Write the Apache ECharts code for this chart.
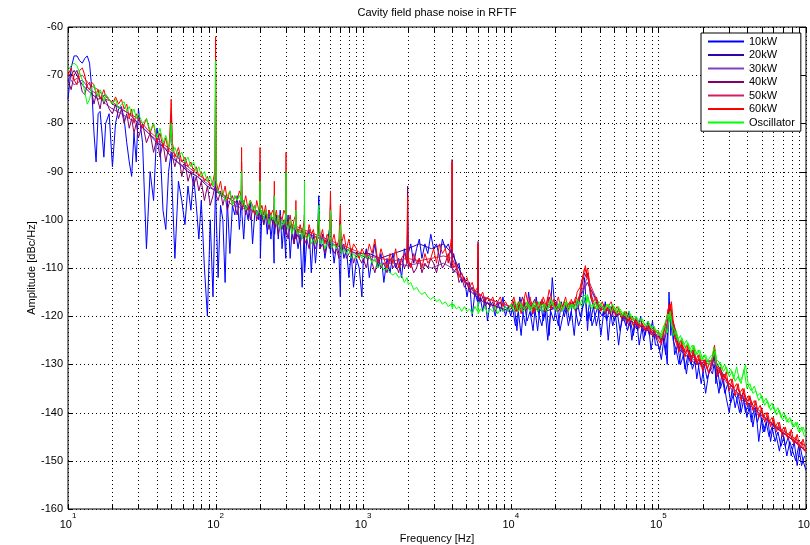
<!DOCTYPE html>
<html>
<head>
<meta charset="utf-8">
<script src="https://cdn.jsdelivr.net/npm/echarts@6/dist/echarts.min.js"></script>
<style>html,body{margin:0;padding:0;background:#fff}#c{width:810px;height:545px}</style>
</head>
<body>
<div id="c"></div>
<script>
// ---------------- DATA ----------------
const seriesNames = ['10kW','20kW','30kW','40kW','50kW','60kW','Oscillator'];
const xGridVals = [10,20,30,40,50,60,70,80,90,100,200,300,400,500,600,700,800,900,1000,2000,3000,4000,5000,6000,7000,8000,9000,1e4,2e4,3e4,4e4,5e4,6e4,7e4,8e4,9e4,1e5,2e5,3e5,4e5,5e5,6e5,7e5,8e5,9e5,1e6];
const yTickVals = [-160,-150,-140,-130,-120,-110,-100,-90,-80,-70,-60];

// fine frequency grid, per decade [Hz]
const F1 = [10,10.5,11,11.5,12,12.5,13,13.5,14,14.5,
 15,15.5,16,16.5,17,17.5,18,19,20,21,
 22,23,24,25,26,27,28,29,30,32,
 34,36,38,40,42,44,46,48,49,50,
 51,53,56,59,62,65,68,71,74,77,
 80,84,88,92,96,99,100,101];
const F2 = [104,108,112,116,120,125,130,135,140,145,
 149,150,151,155,160,166,172,178,184,190,
 196,199,200,201,206,212,218,224,230,237,
 244,249,250,251,258,266,274,282,290,299,
 300,301,310,320,330,340,349,350,351,362,
 374,386,399,400,401,415,430,445,460,475,
 490,500,510,530,550,570,590,600,610,635,
 660,685,700,710,740,770,800,830,860,900,
 940,980];
const F3 = [1000,1050,1100,1150,1200,1260,1320,1380,1450,1520,
 1590,1660,1740,1820,1900,1980,2000,2020,2100,2200,
 2300,2400,2500,2620,2740,2870,3000,3140,3290,3440,
 3600,3770,3950,3990,4000,4010,4100,4280,4460,4650,
 4850,5050,5260,5480,5710,5950,5990,6000,6010,6200,
 6450,6700,6950,7250,7550,7850,8150,8500,8850,9200,
 9600];
const F4 = [10000,10500,11000,11500,12000,12600,13200,13800,14500,15200,
 15900,16600,17400,18200,19100,20000,21000,22000,23000,24000,
 25100,26300,27500,28800,30200,31600,32500,33100,33800,34700,
 36300,38000,39800,41700,43700,45700,47900,50100,52500,55000,
 57500,60300,63100,66100,69200,72400,75900,79400,83200,87100,
 91200,95500];
const F5 = [100000,104700,109600,114800,118000,120200,122500,125900,131800,138000,
 144500,151400,158500,166000,173800,182000,190500,199500,208900,218800,
 229100,236000,240000,245000,251200,263000,275400,288400,302000,316200,
 331100,346700,363100,380200,398100,416900,436500,457100,478600,501200,
 524800,549500,575400,602600,631000,660700,691800,724400,758600,794300,
 831800,871000,912000,955000,1000000];
// interleaved extra samples for the dense high-frequency band
const FX4 = [10250,10750,11250,11750,12300,12900,13500,14150,14850,15550,
 16250,17000,17800,18650,19550,20500,21500,22500,23500,24550,
 25700,26900,28150,29500,30900,32000,32800,33450,34250,35500,
 37150,38900,40750,42700,44700,46800,49000,51300,53750,56250,
 58900,61700,64600,67650,70800,74150,77650,81300,85150,89150,
 93350,97750];
const FX5 = [102300,107100,112200,116400,119100,121300,124200,128800,134900,141200,
 147900,154900,162200,169900,177900,186200,195000,204200,213800,223900,
 232500,238000,242500,248100,257100,269200,281900,295200,309100,323600,
 338900,354900,371600,389100,407500,426700,446800,467800,489900,512900,
 537100,562400,589000,616800,645800,676200,708100,741500,776400,813000,
 851400,891500,933500,977500];

// 10kW [dBc/Hz]
const P10_1 = [-75,-68.5,-66,-66,-67,-67.5,-66.5,-66,-67.5,-73,
 -82,-88,-78,-77.5,-82,-87,-80,-78,-89,-80,
 -77,-76.5,-79,-84,-88,-91,-82,-88,-77,-84,
 -106,-90,-96,-81,-84,-98,-102,-90,-88,-86,
 -95,-108,-92,-96,-101,-93,-98,-91,-97,-104,
 -96,-110,-120,-100,-116,-98,-92,-99];
const P10_2 = [-112,-97,-100,-113,-96,-107,-97,-99,-95,-102,
 -96,-93,-99,-104,-97,-100,-96,-105,-99,-98,
 -100,-97,-95,-108,-98,-101,-99,-103,-98,-104,
 -100,-109,-97,-103,-99,-104,-98,-106,-101,-108,
 -100,-103,-99,-108,-102,-105,-100,-104,-103,-106,
 -103,-114,-101,-99,-111,-104,-102,-111,-103,-109,
 -104,-95,-106,-103,-108,-105,-102,-107,-104,-109,
 -105,-107,-116,-104,-108,-106,-112,-107,-114,-108,
 -110,-116];
const P10_3 = [-109,-106,-112,-108,-105,-110,-107,-113,-108,-111,
 -107,-110,-108,-112,-106,-109,-100,-107,-105,-109,
 -106,-104,-108,-105,-107,-103,-106,-105,-108,-104,
 -106,-105,-107,-106,-96,-108,-107,-110,-109,-113,
 -112,-116,-113,-120,-115,-117,-116,-108,-118,-116,
 -119,-116,-121,-117,-118,-120,-117,-119,-116,-120,
 -118];
const P10_4 = [-120,-117,-123,-116,-119,-122,-115,-120,-118,-123,
 -117,-121,-118,-124,-112,-119,-122,-117,-120,-118,
 -121,-117,-119,-122,-120,-112,-118,-123,-119,-121,
 -118,-122,-119,-120,-117,-125,-118,-121,-119,-123,
 -120,-122,-119,-125,-121,-123,-120,-125,-122,-124,
 -121,-126];
const P10_5 = [-126,-129,-124,-130,-115,-121,-120,-125,-127,-130,
 -126,-131,-128,-130,-127,-133,-129,-131,-136,-132,
 -130,-129,-128,-134,-131,-135,-133,-137,-140,-135,
 -139,-136,-140,-137,-141,-138,-143,-139,-146,-141,
 -144,-141,-146,-142,-145,-148,-144,-147,-145,-149,
 -146,-151,-147,-150,-152];
const P10_X4 = [-118,-122,-119,-124,-117,-121,-119,-123,-116,-120,
 -122,-118,-125,-119,-121,-117,-123,-120,-118,-122,
 -119,-124,-117,-120,-118,-116,-121,-119,-117,-122,
 -120,-118,-124,-119,-121,-118,-122,-120,-126,-121,
 -119,-123,-121,-124,-120,-126,-122,-124,-121,-127,
 -123,-125];
const P10_X5 = [-127,-124,-128,-122,-117,-124,-121,-128,-126,-130,
 -128,-132,-127,-131,-129,-130,-134,-130,-133,-131,
 -132,-130,-131,-133,-136,-132,-136,-134,-138,-136,
 -137,-140,-136,-140,-138,-142,-139,-142,-140,-144,
 -142,-145,-143,-146,-144,-147,-145,-149,-146,-148,
 -150,-147,-151,-149];

// 40kW
const P40_1 = [-71,-73,-70,-69,-71,-73.5,-74,-72,-71.5,-73.5,
 -76,-74,-75.5,-77,-74.5,-76,-75,-77,-78,-76,
 -79,-77,-80,-78,-81,-79,-82,-80,-83,-80,
 -84,-82,-86,-83,-87,-84,-88,-85,-84,-78,
 -87,-89,-86,-91,-88,-92,-90,-93,-91,-94,
 -92,-96,-93,-97,-95,-93,-70,-95];
const P40_2 = [-96,-94,-97,-95,-98,-96,-95,-97,-99,-96,
 -97,-88,-98,-96,-99,-97,-100,-98,-97,-100,
 -99,-98,-88,-100,-99,-101,-98,-100,-102,-99,
 -101,-100,-95,-102,-100,-103,-101,-102,-100,-103,
 -90,-102,-104,-101,-103,-105,-102,-99,-104,-103,
 -105,-103,-104,-99,-105,-104,-106,-103,-105,-106,
 -104,-101,-106,-105,-107,-104,-106,-97,-105,-107,
 -106,-108,-100,-107,-105,-108,-107,-106,-109,-107,
 -108,-109];
const P40_3 = [-108,-110,-107,-109,-111,-108,-110,-109,-111,-108,
 -110,-109,-111,-108,-110,-109,-93,-110,-109,-111,
 -110,-108,-111,-109,-110,-108,-109,-111,-108,-110,
 -109,-107,-110,-108,-87.5,-110,-111,-110,-113,-112,
 -114,-113,-115,-114,-116,-115,-114,-104.5,-116,-117,
 -116,-118,-117,-118,-117,-119,-118,-117,-119,-118,
 -119];
const P40_4 = [-118.5,-117,-119,-118,-116,-119,-117.5,-118,-116.5,-119,
 -118,-117,-119,-116,-118.5,-117,-119,-118,-117.5,-119,
 -118,-117,-119,-118,-114,-111,-112,-111,-113,-116,
 -118,-117,-119,-118,-119.5,-118,-120,-119,-120,-119.5,
 -121,-120,-122,-121,-122.5,-121.5,-122,-123,-122.5,-123.5,
 -124,-124.5];
const P40_5 = [-124.5,-125,-123,-121.5,-119,-118,-120,-123,-125,-126.5,
 -126,-127.5,-127,-128.5,-128,-129.5,-129,-130.5,-130,-131.5,
 -131,-129,-127.5,-130,-132,-131.5,-132.5,-133,-134,-134.5,
 -135.5,-135,-136.5,-136,-137.5,-137,-138.5,-139,-139.5,-140,
 -141,-141.5,-142,-142.5,-143,-143.5,-144,-144.5,-145,-145.5,
 -146,-146.5,-147,-147.5,-148];

// 60kW
const P60_1 = [-70,-68.5,-71,-72,-69,-68.5,-70,-72.5,-73,-71.5,
 -72,-74,-73,-75,-74,-73,-74.5,-75,-76,-74.5,
 -76,-75,-77,-76,-79,-77,-80,-78,-79,-81,
 -79,-82,-80,-84,-82,-85,-83,-86,-82,-75,
 -84,-87,-85,-88,-87,-89,-88,-90,-89,-91,
 -90,-92,-91,-93,-92,-90,-62,-92];
const P60_2 = [-94,-92,-95,-93,-96,-94,-97,-95,-96,-94,
 -95,-85,-96,-97,-95,-98,-96,-97,-99,-96,
 -98,-97,-85,-98,-97,-99,-97,-100,-98,-99,
 -98,-99,-92,-100,-98,-101,-99,-100,-98,-99,
 -86,-100,-101,-99,-102,-100,-99,-96,-101,-103,
 -101,-103,-100,-97,-102,-104,-101,-103,-102,-105,
 -103,-99,-104,-102,-105,-103,-104,-94,-105,-103,
 -106,-104,-97,-105,-103,-106,-104,-107,-105,-106,
 -108,-106];
const P60_3 = [-106,-108,-105,-107,-104,-109,-106,-108,-110,-107,
 -109,-106,-110,-108,-107,-109,-95,-108,-110,-107,
 -109,-108,-110,-107,-109,-108,-106,-109,-105,-107,
 -106,-109,-104,-106,-88,-108,-110,-109,-112,-111,
 -113,-112,-114,-113,-115,-114,-114,-105,-115,-116,
 -115,-117,-116,-117,-116,-118,-117,-116,-118,-117,
 -118];
const P60_4 = [-118,-116,-119,-117,-118,-115,-118,-117,-119,-117,
 -118,-116,-118,-114.5,-117,-118,-116,-119,-117,-118,
 -117,-118,-116,-117,-113,-110,-111,-110,-112,-115,
 -117,-116,-118,-117,-119,-118,-117,-119,-118,-119,
 -120,-119,-121,-120,-121,-122,-121,-122,-123,-122,
 -124,-123];
const P60_5 = [-123,-126,-122.5,-120,-117.5,-118.5,-117,-121,-124,-127.5,
 -125,-128.5,-126,-129.5,-126.5,-130,-128,-131.5,-129,-132,
 -129.5,-127.5,-126,-129,-132.5,-130.5,-133.5,-131.5,-135.5,-133,
 -136.5,-134,-137.5,-135,-138.5,-136.5,-139.5,-137.5,-141,-139,
 -142,-140,-143,-141,-144,-142,-145,-143,-145.5,-143.5,
 -146.5,-144.5,-147.5,-145.5,-148];
const P60_X4 = [-116.5,-119,-117,-119.5,-116.5,-118.5,-116,-119.5,-117,-118.5,
 -116.5,-119,-116,-118.5,-116.5,-119,-117,-118,-116,-119,
 -116.5,-118.5,-115,-114,-111.5,-109.5,-112,-111,-114,-116.5,
 -118.5,-117,-119,-117.5,-118.5,-119.5,-118,-120,-118.5,-120.5,
 -119,-121.5,-120,-122,-120.5,-122.5,-121.5,-123,-121.5,-123.5,
 -122.5,-124.5];
const P60_X5 = [-125.5,-123.5,-121.5,-118.5,-119.5,-117.5,-120.5,-124.5,-126.5,-125,
 -127.5,-126,-128.5,-127,-129.5,-128,-130.5,-129,-131,-129.5,
 -128.5,-126.5,-127.5,-130.5,-131,-133,-132,-134,-133,-135,
 -134,-136,-135,-137.5,-136.5,-138.5,-137.5,-139.5,-138.5,-141,
 -140,-142,-141,-143,-142,-144,-143,-145,-144,-146,
 -145,-147,-146,-148];

// Oscillator
const OSC_1 = [-69,-68,-67.5,-68,-69.5,-71,-73.5,-76,-75,-72.5,
 -72,-73.5,-74.5,-73,-74,-75.5,-74,-75,-76,-75,
 -77,-76,-75.5,-77.5,-76.5,-78,-77,-79,-78,-80,
 -79,-81.5,-80,-83,-81,-84,-82.5,-85,-84,-80,
 -86,-85,-87,-86,-88,-87,-89,-88,-90,-89,
 -91,-90,-92,-91,-93,-91,-67,-93];
const OSC_2 = [-93,-95,-94,-96,-95,-94,-97,-95,-96,-95,
 -96,-90,-97,-96,-98,-97,-96,-98,-97,-99,
 -98,-97,-92,-99,-98,-100,-98,-99,-101,-99,
 -100,-99,-95,-100,-101,-99,-102,-100,-101,-99,
 -90,-101,-102,-100,-103,-101,-102,-98,-102,-103,
 -102,-104,-101,-92,-103,-104,-103,-105,-104,-105,
 -104,-97,-105,-104,-106,-105,-104,-98,-106,-105,
 -106,-105,-101,-107,-106,-107,-106,-108,-107,-108,
 -107,-108];
const OSC_3 = [-107,-108,-107.5,-109,-108,-110,-109,-110.5,-110,-111,
 -111.5,-111,-112,-111.5,-113,-112,-112.5,-113.5,-113,-114.5,
 -114,-115,-115.5,-115,-116,-116.5,-116,-117,-116.5,-117.5,
 -117,-118,-117.5,-118,-117,-118.5,-117.5,-118.5,-118,-119,
 -118,-119,-118.5,-119.5,-118,-119,-118.5,-117,-119.5,-118.5,
 -119,-118,-119.5,-118.5,-119,-118,-119.5,-118.5,-119,-118,
 -119];
const OSC_4 = [-117.5,-119,-118,-117,-119,-118.5,-117.5,-118.5,-117,-119,
 -118,-117.5,-119,-118,-117,-118.5,-117.5,-119,-118,-117,
 -118.5,-117.5,-118.5,-117,-118,-116.5,-117.5,-115.5,-117,-118,
 -117.5,-118.5,-117,-118,-118.5,-117.5,-119,-118,-119.5,-118.5,
 -119.5,-120,-119,-120.5,-120,-121,-120.5,-121.5,-122,-121.5,
 -122.5,-123];
const OSC_5 = [-123,-124.5,-122,-123.5,-120.5,-119,-121.5,-124,-123,-125.5,
 -124.5,-126.5,-125.5,-127.5,-126,-128,-127,-129,-128,-130,
 -129,-128,-127.5,-129.5,-130.5,-129.5,-131.5,-130.5,-132.5,-131.5,
 -133.5,-132.5,-134,-131,-135,-134,-136,-135.5,-137.5,-136.5,
 -138.5,-137.5,-139.5,-138.5,-140.5,-139.5,-141.5,-140.5,-142,-141.5,
 -143,-142,-144,-143,-144.5];
const OSC_X4 = [-118.5,-117,-119,-117.5,-118.5,-117,-119,-117.5,-118.5,-117,
 -119,-117.5,-118.5,-116.5,-118,-119,-117,-118.5,-117,-119,
 -117.5,-118.5,-116.5,-117.5,-116,-115.5,-117,-116,-117.5,-118.5,
 -117,-118.5,-117.5,-119,-117.5,-118.5,-117.5,-119,-118,-120,
 -119,-120.5,-119.5,-121,-120,-121.5,-120.5,-122,-121,-122.5,
 -122,-123.5];
const OSC_X5 = [-124,-122.5,-121,-119.5,-121,-120,-122,-123,-125,-124,
 -126,-125,-127,-126,-128,-127,-129,-128,-129.5,-128.5,
 -128,-126.5,-127,-129,-129.5,-131,-130,-132,-131,-133,
 -130.5,-133.5,-132.5,-130,-134.5,-135.5,-134.5,-136.5,-136,-138,
 -137,-139,-138,-140,-139,-141,-140,-142,-141,-143,
 -142,-144,-143,-145];

// coarse grid for 20kW / 30kW / 50kW (mostly hidden in the bundle)
const FC = [10,11,12.5,14,16,18,20,23,26,30,
 35,40,45,50,55,65,75,88,100,115,
 130,150,175,200,240,300,360,430,520,620,
 750,900,1100,1300,1600,2000,2400,2900,3500,4000,
 4600,5400,6500,8000,10000,13000,17000,22000,28000,33000,
 40000,50000,65000,85000,110000,120000,140000,180000,240000,300000,
 400000,520000,680000,850000,1000000];
const P20 = [-71,-69,-72,-73.5,-75,-74,-76,-77,-78,-80,
 -82,-84,-85,-87,-88,-90,-91,-93,-94,-95,
 -96,-97,-98,-99,-100,-101,-102,-103,-104,-105,
 -106,-107,-107,-108,-107,-106,-105,-106,-105,-107,
 -111,-115,-117,-118,-119,-118,-119,-118,-117,-113,
 -118,-119,-121,-123,-125,-120,-127,-130,-129,-134,
 -138,-141,-144,-146,-148];
const P30 = [-70,-72,-71,-73,-74,-76,-77,-78,-79,-80,
 -82,-83.5,-85,-86,-88,-89.5,-91,-92.5,-94,-95.5,
 -97,-97.5,-98,-99.5,-100,-101,-102.5,-103,-104,-105,
 -106,-107,-108,-109,-109,-109.5,-109,-110,-109,-110,
 -112,-114,-116,-117,-118,-118.5,-118,-118.5,-117.5,-113,
 -118.5,-119,-121,-123,-124.5,-119,-126.5,-129.5,-130,-134.5,
 -138.5,-141.5,-144,-146,-148];
const P50 = [-69.5,-71,-70,-72,-73,-75,-75.5,-77,-78,-79,
 -81.5,-83,-84.5,-85.5,-87,-89,-90.5,-92,-93.5,-95,
 -96,-97,-98,-98.5,-99.5,-100.5,-101.5,-102.5,-103.5,-104.5,
 -105.5,-106.5,-107.5,-108,-108.5,-108,-108.5,-108,-107.5,-108,
 -112,-114.5,-116,-117,-118,-118,-117.5,-118,-117,-112,
 -118,-119,-120.5,-122.5,-124,-119,-126,-129,-129.5,-134,
 -138,-141,-143.5,-145.5,-147];

// ---------------- BUILD ----------------
function join(name, fs, vs) {
  const out = [];
  for (let d = 0; d < fs.length; d++) {
    if (fs[d].length !== vs[d].length) throw new Error(name + ' part ' + (d+1) + ': ' + fs[d].length + ' vs ' + vs[d].length);
    for (let i = 0; i < fs[d].length; i++) out.push([fs[d][i], vs[d][i]]);
  }
  return out;
}
const FF = [F1,F2,F3,F4,F5];
const data10 = join('10kW', FF, [P10_1,P10_2,P10_3,P10_4,P10_5]);
const data10x = join('10kW x', [FX4,FX5], [P10_X4,P10_X5]);
const data40 = join('40kW', FF, [P40_1,P40_2,P40_3,P40_4,P40_5]);
const data60 = join('60kW', FF, [P60_1,P60_2,P60_3,P60_4,P60_5]);
const data60x = join('60kW x', [FX4,FX5], [P60_X4,P60_X5]);
const dataOsc = join('Osc', FF, [OSC_1,OSC_2,OSC_3,OSC_4,OSC_5]);
const dataOscx = join('Osc x', [FX4,FX5], [OSC_X4,OSC_X5]);
const data20 = join('20kW', [FC], [P20]);
const data30 = join('30kW', [FC], [P30]);
const data50 = join('50kW', [FC], [P50]);

const FONT = '"Liberation Sans", Arial, Helvetica, sans-serif';
const colorOf = {'10kW':'#0000ff','20kW':'#3300aa','30kW':'#8040c0','40kW':'#800070','50kW':'#d02060','60kW':'#ff0000','Oscillator':'#00ff00'};
// drawing order: bottom first
const drawList = [
  ['10kW', data10], ['10kW', data10x], ['20kW', data20], ['30kW', data30], ['40kW', data40],
  ['50kW', data50], ['60kW', data60], ['60kW', data60x], ['Oscillator', dataOsc], ['Oscillator', dataOscx]
];

const chart = echarts.init(document.getElementById('c'), null, {renderer: 'canvas'});

const lineSeries = drawList.map(([n, d]) => ({
  name: n, type: 'line', data: d, symbol: 'none', showSymbol: false,
  lineStyle: {width: 1, color: colorOf[n]}, itemStyle: {color: colorOf[n]},
  z: 3, animation: false, silent: true
}));

const gridX = {
  type: 'custom', coordinateSystem: 'cartesian2d', silent: true, z: 1, animation: false,
  data: xGridVals.map(v => [v, -160]), encode: {x: 0, y: 1},
  renderItem: function (params, api) {
    const f = api.value(0);
    const b = api.coord([f, -160]), t = api.coord([f, -60]);
    const x = Math.round(b[0]) + 0.5;
    return {type: 'group', children: [
      {type: 'line', shape: {x1: x, y1: b[1], x2: x, y2: t[1]}, style: {stroke: '#000', lineWidth: 1, lineDash: [1, 3]}},
      {type: 'line', shape: {x1: x, y1: b[1], x2: x, y2: b[1] - 5}, style: {stroke: '#000', lineWidth: 1}},
      {type: 'line', shape: {x1: x, y1: t[1], x2: x, y2: t[1] + 5}, style: {stroke: '#000', lineWidth: 1}}
    ]};
  }
};
const gridY = {
  type: 'custom', coordinateSystem: 'cartesian2d', silent: true, z: 1, animation: false,
  data: yTickVals.map(v => [10, v]), encode: {x: 0, y: 1},
  renderItem: function (params, api) {
    const v = api.value(1);
    const l = api.coord([10, v]), r = api.coord([1e6, v]);
    const y = Math.round(l[1]) + 0.5;
    return {type: 'group', children: [
      {type: 'line', shape: {x1: l[0], y1: y, x2: r[0], y2: y}, style: {stroke: '#000', lineWidth: 1, lineDash: [1, 3]}},
      {type: 'line', shape: {x1: l[0], y1: y, x2: l[0] + 5, y2: y}, style: {stroke: '#000', lineWidth: 1}},
      {type: 'line', shape: {x1: r[0] - 5, y1: y, x2: r[0], y2: y}, style: {stroke: '#000', lineWidth: 1}}
    ]};
  }
};

chart.setOption({
  animation: false,
  backgroundColor: '#fff',
  textStyle: {fontFamily: FONT},
  grid: {left: 68, right: 4, top: 27, bottom: 36, show: true, borderColor: '#000', borderWidth: 1,
         backgroundColor: '#fff', containLabel: false, outerBoundsMode: 'none'},
  graphic: [{type: 'text', x: 437, y: 13, style: {text: 'Cavity field phase noise in RFTF', font: '11px ' + FONT,
             fill: '#000', textAlign: 'center', textVerticalAlign: 'middle'}}],
  legend: {
    orient: 'vertical', left: 701, top: 33, data: seriesNames,
    itemWidth: 36, itemHeight: 14, itemGap: 2.3, padding: [3, 6, 3, 6],
    backgroundColor: '#fff', borderColor: '#000', borderWidth: 1,
    itemStyle: {opacity: 0, color: 'rgba(0,0,0,0)', borderWidth: 0},
    textStyle: {fontSize: 11, color: '#000', fontFamily: FONT}, selectedMode: false
  },
  xAxis: {
    type: 'log', logBase: 10, min: 10, max: 1e6,
    name: 'Frequency [Hz]', nameLocation: 'middle', nameGap: 24, nameMoveOverlap: false,
    nameTextStyle: {fontSize: 11, color: '#000', fontFamily: FONT},
    axisLine: {show: false}, axisTick: {show: false}, splitLine: {show: false}, minorTick: {show: false},
    axisLabel: {
      margin: 3, color: '#000', showMaxLabel: true, showMinLabel: true,
      formatter: v => '{b|10}{s|' + Math.round(Math.log10(v)) + '}',
      rich: {
        b: {fontSize: 11, color: '#000', fontFamily: FONT, lineHeight: 18, verticalAlign: 'bottom'},
        s: {fontSize: 8, color: '#000', fontFamily: FONT, verticalAlign: 'top'}
      }
    }
  },
  yAxis: {
    type: 'value', min: -160, max: -60, interval: 10,
    name: 'Amplitude [dBc/Hz]', nameLocation: 'middle', nameGap: 31, nameMoveOverlap: false,
    nameTextStyle: {fontSize: 11, color: '#000', fontFamily: FONT},
    axisLine: {show: false}, axisTick: {show: false}, splitLine: {show: false},
    axisLabel: {margin: 5, fontSize: 11, color: '#000', fontFamily: FONT}
  },
  series: [gridX, gridY].concat(lineSeries)
});
</script>
</body>
</html>
